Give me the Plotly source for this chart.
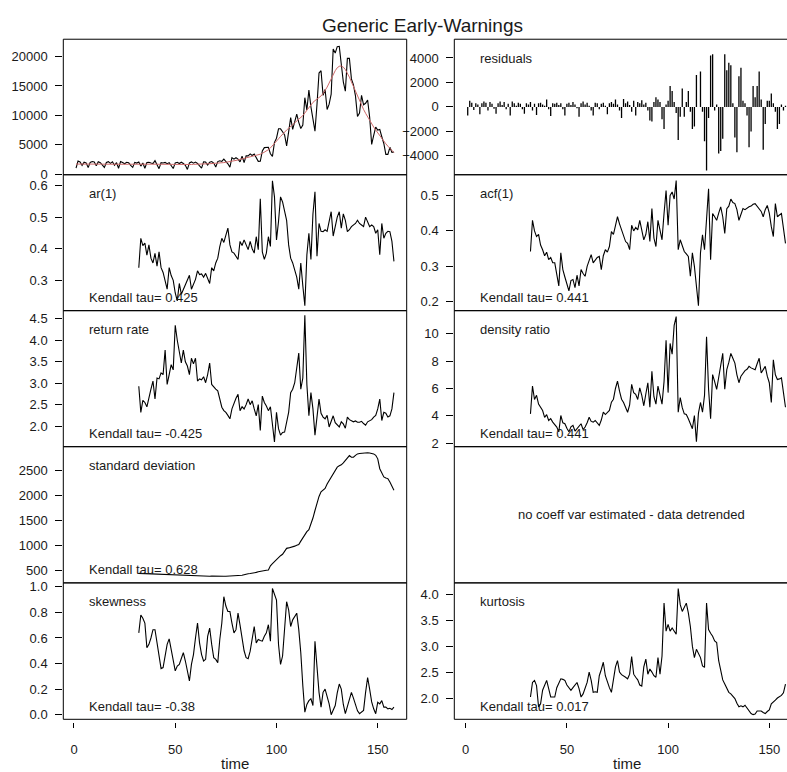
import plotly.graph_objects as go

# ---------------------------------------------------------------- data
time_all = list(range(1, 159))
time_ind = list(range(32, 159))

trend = [
    1700, 1710, 1720, 1720, 1710, 1700, 1690, 1680, 1680, 1690,
    1700, 1700, 1690, 1680, 1670, 1660, 1660, 1670, 1680, 1690,
    1690, 1680, 1670, 1660, 1650, 1650, 1660, 1670, 1680, 1680,
    1670, 1660, 1650, 1640, 1640, 1650, 1660, 1670, 1680, 1680,
    1670, 1660, 1650, 1640, 1630, 1620, 1620, 1630, 1640, 1650,
    1650, 1640, 1620, 1600, 1590, 1590, 1600, 1620, 1650, 1680,
    1700, 1710, 1720, 1730, 1740, 1750, 1760, 1770, 1780, 1790,
    1820, 1860, 1900, 1950, 2000, 2040, 2080, 2150, 2230, 2320,
    2400, 2480, 2560, 2640, 2720, 2800, 2880, 2960, 3050, 3150,
    3260, 3380, 3520, 3700, 3900, 4150, 4450, 4800, 5200, 5600,
    6000, 6400, 6800, 7150, 7500, 7800, 8100, 8400, 8650, 8900,
    9200, 9550, 9950, 10400, 10900, 11400, 11850, 12200, 12500, 12750,
    13000, 13300, 13700, 14200, 14800, 15500, 16200, 17000, 17600, 18100,
    18350, 18400, 18200, 17800, 17200, 16500, 15700, 14900, 14000, 13100,
    12400, 11700, 11000, 10350, 9700, 9100, 8550, 8000, 7500, 7000,
    6500, 6050, 5600, 5150, 4750, 4350, 4000, 3650,
]

residuals = [
    -700, 500, 350, -250, 300, 200, -600, 300, 450, 350,
    -300, 400, 250, -150, -550, 300, 450, 150, 400, -200,
    250, -700, 450, 300, 100, 350, 250, -200, -550, 300,
    200, 400, -300, 250, -650, 300, 350, 200, 100, 600,
    -200, -750, 300, 250, 350, 150, 300, -200, -700, 250,
    350, 150, 400, 200, -100, -800, 300, 450, 200, 350,
    100, -300, -700, 350, 300, -200, 250, 350, 100, -600,
    300, 400, 250, 600, 200, -300, -900, 650, 300, 450,
    150, -400, 500, -700, 400, 300, 550, 200, 350, -300,
    -1100, -1200, 400, 800, 600, 400, -1000, -1800, 200, 500,
    1700, 1300, 400, -500, -2700, -800, 1500, -800, 400, 1300,
    -400, -1800, -1600, 2600, 0, 2900, -400, -2800, -5200, -900,
    4200, 4300, -300, 200, -3800, -3600, -2600, 4300, 3000, 3600,
    3400, 300, -2500, -3700, 2500, 3200, 500, 300, -700, -3300,
    -2000, 1700, 800, 1700, 2900, 600, -3500, -1400, 500, 500,
    1100, 300, -400, -1800, -1400, 200, -300, 100,
]

# observed series = smoothed trend + residuals
observed = [tr + rs for tr, rs in zip(trend, residuals)]

ar1 = [
    0.34, 0.433, 0.41, 0.418, 0.38, 0.412, 0.37, 0.355, 0.385, 0.345,
    0.39, 0.34, 0.325, 0.30, 0.272, 0.34, 0.315, 0.30, 0.26, 0.235,
    0.29, 0.256, 0.27, 0.283, 0.30, 0.316, 0.272, 0.29, 0.303, 0.33,
    0.318, 0.32, 0.31, 0.322, 0.305, 0.29, 0.34, 0.33, 0.355, 0.37,
    0.407, 0.433, 0.42, 0.44, 0.465, 0.412, 0.39, 0.386, 0.375, 0.366,
    0.423, 0.41, 0.428, 0.415, 0.397, 0.423, 0.40, 0.386, 0.438, 0.397,
    0.558, 0.39, 0.366, 0.386, 0.438, 0.407, 0.615, 0.564, 0.428, 0.486,
    0.564, 0.548, 0.52, 0.49, 0.412, 0.37, 0.355, 0.33, 0.31, 0.272,
    0.355, 0.283, 0.22, 0.38, 0.449, 0.366, 0.51, 0.58, 0.376, 0.48,
    0.455, 0.454, 0.46, 0.455, 0.49, 0.517, 0.44, 0.475, 0.50, 0.517,
    0.465, 0.51, 0.49, 0.454, 0.46, 0.47, 0.475, 0.48, 0.49, 0.48,
    0.475, 0.47, 0.50, 0.485, 0.47, 0.475, 0.47, 0.449, 0.46, 0.381,
    0.48, 0.433, 0.449, 0.455, 0.454, 0.423, 0.36,
]

acf1 = [
    0.342, 0.43, 0.40, 0.384, 0.39, 0.36, 0.347, 0.33, 0.34, 0.319,
    0.325, 0.31, 0.31, 0.28, 0.245, 0.338, 0.291, 0.27, 0.25, 0.231,
    0.26, 0.263, 0.24, 0.275, 0.245, 0.291, 0.28, 0.272, 0.30, 0.315,
    0.333, 0.31, 0.319, 0.325, 0.328, 0.291, 0.33, 0.347, 0.34, 0.356,
    0.398, 0.39, 0.415, 0.44, 0.42, 0.403, 0.384, 0.37, 0.365, 0.347,
    0.416, 0.40, 0.41, 0.403, 0.43, 0.40, 0.375, 0.39, 0.426, 0.37,
    0.463, 0.38, 0.356, 0.43, 0.40, 0.375, 0.449, 0.514, 0.416, 0.50,
    0.51, 0.49, 0.542, 0.347, 0.375, 0.36, 0.342, 0.335, 0.328, 0.272,
    0.338, 0.30, 0.245, 0.189, 0.338, 0.389, 0.347, 0.45, 0.519, 0.319,
    0.449, 0.44, 0.43, 0.45, 0.468, 0.44, 0.393, 0.463, 0.47, 0.49,
    0.48, 0.477, 0.46, 0.43, 0.45, 0.463, 0.46, 0.465, 0.468, 0.47,
    0.475, 0.477, 0.47, 0.463, 0.455, 0.44, 0.46, 0.472, 0.45, 0.412,
    0.384, 0.477, 0.44, 0.445, 0.449, 0.407, 0.365,
]

return_rate = [
    2.93, 2.32, 2.60, 2.55, 2.45, 2.70, 2.86, 3.05, 2.63, 3.12,
    3.10, 3.24, 3.20, 3.77, 2.97, 3.20, 3.43, 3.31, 4.35, 4.00,
    3.75, 3.47, 3.77, 3.50, 3.40, 3.20, 3.58, 3.45, 3.58, 3.05,
    3.10, 3.08, 3.15, 3.01, 3.20, 3.47, 2.97, 2.90, 2.86, 2.82,
    2.60, 2.44, 2.36, 2.32, 2.25, 2.17, 2.40, 2.55, 2.65, 2.74,
    2.36, 2.45, 2.40, 2.50, 2.63, 2.50, 2.59, 2.40, 2.24, 2.50,
    1.90, 2.70, 2.55, 2.47, 2.36, 2.45, 2.09, 1.63, 2.32, 1.94,
    1.79, 1.85, 1.86, 2.10, 2.32, 2.78, 2.86, 3.01, 3.30, 3.70,
    2.86, 3.12, 4.58, 2.97, 2.24, 2.78, 2.40, 1.79, 2.21, 2.63,
    2.30, 2.21, 2.17, 2.25, 1.98, 2.10, 2.24, 2.08, 2.02, 1.98,
    2.10, 2.05, 1.95, 2.21, 2.15, 2.13, 2.10, 2.12, 2.09, 2.09,
    2.11, 2.06, 2.02, 2.10, 2.13, 2.15, 2.21, 2.25, 2.40, 2.63,
    2.13, 2.32, 2.30, 2.21, 2.24, 2.40, 2.78,
]

density_ratio = [
    4.15, 6.18, 5.20, 5.50, 4.86, 4.60, 4.39, 3.90, 4.10, 3.67,
    3.80, 3.55, 3.40, 3.19, 2.84, 4.03, 3.50, 3.43, 3.10, 2.84,
    3.20, 3.31, 2.90, 3.07, 3.20, 3.43, 3.00, 3.19, 3.50, 3.90,
    3.60, 3.55, 3.67, 3.50, 3.31, 3.70, 4.27, 4.10, 4.27, 4.40,
    5.00, 5.22, 6.00, 6.53, 5.80, 5.22, 4.98, 4.60, 4.27, 4.80,
    6.30, 5.70, 5.58, 5.20, 6.05, 5.50, 4.74, 5.60, 6.42, 4.63,
    7.25, 5.40, 4.86, 6.18, 5.50, 4.86, 6.50, 9.52, 5.70, 9.28,
    8.50, 10.60, 11.24, 4.27, 5.34, 4.60, 4.15, 4.10, 3.79, 3.40,
    3.07, 4.03, 2.12, 4.20, 4.98, 4.27, 5.50, 9.76, 5.94, 3.79,
    7.01, 6.50, 5.94, 6.80, 7.85, 8.56, 5.94, 7.37, 7.90, 8.56,
    8.20, 7.85, 7.00, 6.42, 6.90, 7.13, 7.30, 7.40, 7.61, 7.50,
    7.45, 7.37, 7.80, 8.20, 7.13, 7.40, 7.61, 6.90, 6.42, 4.98,
    8.09, 7.00, 6.65, 6.70, 6.77, 5.70, 4.63,
]

std_dev = [
    448, 446, 445, 443, 440, 438, 436, 435, 434, 432,
    430, 428, 427, 425, 424, 423, 422, 421, 420, 418,
    417, 416, 415, 415, 412, 408, 405, 403, 400, 398,
    396, 394, 392, 390, 389, 390, 392, 394, 395, 393,
    391, 390, 390, 390, 392, 394, 395, 395, 395, 396,
    400, 410, 420, 434, 440, 445, 448, 455, 467, 480,
    490, 500, 505, 510, 513, 598, 640, 680, 730, 760,
    800, 828, 880, 946, 955, 965, 972, 990, 1010, 1024,
    1090, 1155, 1220, 1280, 1320, 1420, 1550, 1700, 1844, 1980,
    2074, 2100, 2140, 2230, 2303, 2370, 2434, 2500, 2565, 2590,
    2611, 2650, 2697, 2750, 2795, 2762, 2762, 2800, 2828, 2835,
    2840, 2847, 2847, 2850, 2847, 2840, 2828, 2800, 2730, 2533,
    2434, 2369, 2350, 2336, 2270, 2192, 2106,
]

skewness = [
    0.64, 0.78, 0.755, 0.717, 0.523, 0.55, 0.60, 0.665, 0.665, 0.56,
    0.459, 0.361, 0.369, 0.459, 0.55, 0.593, 0.51, 0.40, 0.343, 0.38,
    0.394, 0.44, 0.485, 0.42, 0.35, 0.265, 0.394, 0.47, 0.60, 0.717,
    0.562, 0.47, 0.42, 0.433, 0.613, 0.678, 0.55, 0.446, 0.433, 0.407,
    0.588, 0.717, 0.923, 0.85, 0.807, 0.807, 0.717, 0.64, 0.665, 0.794,
    0.70, 0.588, 0.50, 0.446, 0.438, 0.497, 0.60, 0.69, 0.562, 0.588,
    0.58, 0.575, 0.613, 0.64, 0.704, 0.575, 0.987, 0.936, 0.897, 0.549,
    0.394, 0.459, 0.64, 0.884, 0.82, 0.69, 0.742, 0.77, 0.794, 0.665,
    0.485, 0.227, 0.02, 0.08, 0.11, 0.124, 0.072, 0.575, 0.356, 0.175,
    0.059, 0.175, 0.20, 0.14, 0.085, 0.0, 0.04, 0.072, 0.17, 0.24,
    0.20, 0.08, 0.008, 0.059, 0.12, 0.175, 0.13, 0.085, 0.03, 0.008,
    0.02, 0.034, 0.175, 0.291, 0.20, 0.10, 0.046, 0.008, 0.098, 0.085,
    0.11, 0.059, 0.06, 0.046, 0.05, 0.04, 0.059,
]

kurtosis = [
    2.02, 2.30, 2.34, 2.24, 1.83, 1.89, 2.15, 2.25, 2.34, 2.18,
    2.02, 2.02, 2.02, 2.20, 2.30, 2.37, 2.36, 2.34, 2.25, 2.21,
    2.15, 2.20, 2.24, 2.30, 2.18, 2.02, 2.08, 2.20, 2.30, 2.50,
    2.34, 2.11, 2.12, 2.11, 2.43, 2.55, 2.69, 2.43, 2.30, 2.20,
    2.11, 2.40, 2.60, 2.72, 2.50, 2.45, 2.43, 2.40, 2.37, 2.46,
    2.80, 2.46, 2.40, 2.35, 2.25, 2.23, 2.60, 2.75, 2.46, 2.56,
    2.50, 2.43, 2.40, 2.78, 2.46, 2.81, 3.83, 3.29, 3.42, 3.29,
    3.35, 3.30, 3.23, 4.11, 3.80, 3.67, 3.75, 3.83, 3.64, 3.38,
    3.00, 2.78, 2.94, 2.85, 2.78, 2.62, 2.59, 3.83, 3.32, 3.25,
    3.19, 3.10, 3.07, 2.72, 2.50, 2.35, 2.27, 2.20, 2.11, 2.08,
    2.03, 1.99, 1.90, 1.83, 1.85, 1.83, 1.86, 1.80, 1.74, 1.70,
    1.68, 1.69, 1.75, 1.75, 1.75, 1.72, 1.70, 1.74, 1.77, 1.89,
    1.92, 1.96, 2.00, 2.02, 2.05, 2.10, 2.27,
]

panel_names = ["", "residuals", "ar(1)", "acf(1)", "return rate", "density ratio",
               "standard deviation", "", "skewness", "kurtosis"]
kendall_tau = [None, None, "0.425", "0.441", "-0.425", "0.441", "0.628", None, "-0.38", "0.017"]
x_ticks = [0, 50, 100, 150]

# ---------------------------------------------------------------- layout helpers
W, H = 787, 772
FONT = "Arial, Liberation Sans, sans-serif"
TXT = "#1a1a1a"

col_domain = {"L": [63.3 / W, 406.7 / W], "R": [454.3 / W, 1.0]}
col_xrange = {"L": [-5.28, 164.3], "R": [-5.63, 158.75]}
row_px = [(36.7, 174.0), (174.0, 311.7), (311.7, 449.5), (449.5, 587.5), (587.5, 725.7)]

# per panel: row, column, y range, y ticks, tick format
panels = [
    (0, "L", [-120, 22960], [0, 5000, 10000, 15000, 20000], "d"),
    (0, "R", [-5540, 5530], [-4000, -2000, 0, 2000, 4000], "d"),
    (1, "L", [0.204, 0.634], [0.3, 0.4, 0.5, 0.6], ".1f"),
    (1, "R", [0.175, 0.5585], [0.2, 0.3, 0.4, 0.5], ".1f"),
    (2, "L", [1.52, 4.69], [2.0, 2.5, 3.0, 3.5, 4.0, 4.5], ".1f"),
    (2, "R", [1.76, 11.67], [2, 4, 6, 8, 10], "d"),
    (3, "L", [258, 2972], [500, 1000, 1500, 2000, 2500], "d"),
    (3, "R", [0, 1], [], "d"),
    (4, "L", [-0.036, 1.031], [0.0, 0.2, 0.4, 0.6, 0.8, 1.0], ".1f"),
    (4, "R", [1.59, 4.22], [2.0, 2.5, 3.0, 3.5, 4.0], ".1f"),
]


def ax(i, kind):
    return kind if i == 1 else f"{kind}{i}"


fig = go.Figure()
layout = dict(
    width=W, height=H, margin=dict(l=0, r=0, t=0, b=0),
    paper_bgcolor="white", plot_bgcolor="white",
    showlegend=False, font=dict(family=FONT, size=13, color=TXT),
)
shapes, annotations = [], []

for i, (row, col, yr, yt, fmt) in enumerate(panels, start=1):
    top, bot = row_px[row]
    bottom_row = row == 4
    xa = dict(
        domain=col_domain[col], range=col_xrange[col], showgrid=False, zeroline=False,
        showline=False, anchor=ax(i, "y"), fixedrange=True,
    )
    if bottom_row:
        xa.update(anchor="free", position=1 - 728.5 / H, ticks="outside", ticklen=5,
                  tickwidth=1, tickcolor="black", tickvals=x_ticks, showticklabels=True,
                  tickfont=dict(size=13, color=TXT), ticklabelstandoff=10)
    else:
        xa.update(ticks="", showticklabels=False)
    ya = dict(
        domain=[1 - bot / H, 1 - top / H], range=yr, showgrid=False, zeroline=False,
        showline=False, anchor=ax(i, "x"), fixedrange=True,
        tickvals=yt, tickformat=fmt, ticks="outside" if yt else "", ticklen=7,
        tickwidth=1, tickcolor="black", showticklabels=bool(yt),
        tickfont=dict(size=13, color=TXT), ticklabelstandoff=5,
    )
    layout[ax(i, "xaxis")] = xa
    layout[ax(i, "yaxis")] = ya

    # panel frame (the right column runs off the page edge)
    shapes.append(dict(
        type="rect", xref=f"{ax(i, 'x')} domain", yref=f"{ax(i, 'y')} domain",
        x0=0, x1=1 if col == "L" else 1.05, y0=0, y1=1,
        line=dict(color="black", width=1), layer="above",
    ))

    if panel_names[i - 1]:
        annotations.append(dict(
            text=panel_names[i - 1], xref=f"{ax(i, 'x')} domain", yref=f"{ax(i, 'y')} domain",
            x=0, y=1, xshift=23.5, yshift=-19, xanchor="left", yanchor="middle",
            showarrow=False, font=dict(size=13, color=TXT),
        ))
    if kendall_tau[i - 1] is not None:
        annotations.append(dict(
            text=f"Kendall tau= {kendall_tau[i - 1]}", xref=f"{ax(i, 'x')} domain",
            yref=f"{ax(i, 'y')} domain", x=0, y=0, xshift=23.5, yshift=13,
            xanchor="left", yanchor="middle", showarrow=False, font=dict(size=13, color=TXT),
        ))
    if bottom_row:
        annotations.append(dict(
            text="time", xref=ax(i, "x"), yref="paper", x=79.5, y=1 - 770 / H,
            xanchor="center", yanchor="middle", showarrow=False, font=dict(size=15, color=TXT),
        ))

# ---------------------------------------------------------------- traces
line_k = dict(color="black", width=1.1)

fig.add_trace(go.Scatter(x=time_all, y=observed, mode="lines", line=line_k,
                         xaxis="x", yaxis="y"))
fig.add_trace(go.Scatter(x=time_all, y=trend, mode="lines",
                         line=dict(color="rgb(205,105,105)", width=1), xaxis="x", yaxis="y"))

# residuals as vertical spikes from zero
spike_x, spike_y = [], []
for t, r in zip(time_all, residuals):
    spike_x += [t, t, None]
    spike_y += [0, r, None]
fig.add_trace(go.Scatter(x=spike_x, y=spike_y, mode="lines",
                         line=dict(color="black", width=1.3), xaxis="x2", yaxis="y2"))

indicator_series = {3: ar1, 4: acf1, 5: return_rate, 6: density_ratio,
                    7: std_dev, 9: skewness, 10: kurtosis}
for i, values in indicator_series.items():
    fig.add_trace(go.Scatter(x=time_ind, y=values, mode="lines", line=line_k,
                             xaxis=ax(i, "x"), yaxis=ax(i, "y")))

annotations.append(dict(
    text="no coeff var estimated - data detrended", xref="x8", yref="y8",
    x=82, y=0.5, xanchor="center", yanchor="middle", showarrow=False,
    font=dict(size=13, color=TXT),
))
annotations.append(dict(
    text="Generic Early-Warnings", xref="paper", yref="paper", x=422 / W, y=1 - 23 / H,
    xanchor="center", yanchor="middle", showarrow=False, font=dict(size=19, color=TXT),
))

layout["shapes"] = shapes
layout["annotations"] = annotations
fig.update_layout(**layout)

fig.write_html("out.html", config={"displayModeBar": False})
